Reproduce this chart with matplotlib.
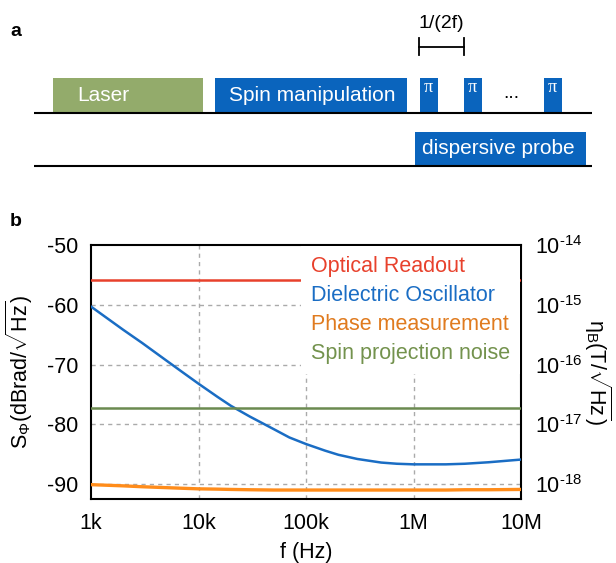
import numpy as np
import matplotlib
matplotlib.use("Agg")
import matplotlib.pyplot as plt
from matplotlib.patches import Rectangle
from matplotlib.ticker import FixedLocator, NullLocator

plt.rcParams['font.family'] = ['Liberation Sans', 'DejaVu Sans']
plt.rcParams['mathtext.fontset'] = 'custom'
plt.rcParams['mathtext.rm'] = 'Liberation Sans'
plt.rcParams['mathtext.it'] = 'Liberation Sans:italic'
plt.rcParams['mathtext.default'] = 'regular'
plt.rcParams['axes.unicode_minus'] = False

# ---- data (panel b) ----
freq = [1e3, 2e3, 3e3, 5e3, 7e3, 1e4, 1.5e4, 2e4, 3e4, 5e4, 7e4, 1e5, 1.5e5,
        2e5, 3e5, 5e5, 7e5, 1e6, 2e6, 3e6, 5e6, 1e7]
dielectric = [-60.3, -64.2, -66.4, -69.3, -71.2, -73.2, -75.4, -76.9, -78.7,
              -80.8, -82.2, -83.3, -84.4, -85.1, -85.8, -86.4, -86.6, -86.7,
              -86.7, -86.6, -86.35, -85.9]
phase = [-90.1, -90.3, -90.45, -90.6, -90.7, -90.8, -90.85, -90.9, -90.95,
         -91.0, -91.0, -91.0, -91.0, -91.0, -91.0, -91.0, -91.0, -91.0,
         -91.0, -90.95, -90.95, -90.9]
optical_level = -55.8
spin_level = -77.2
freq_ticks = [1e3, 1e4, 1e5, 1e6, 1e7]
freq_labels = ['1k', '10k', '100k', '1M', '10M']
db_ticks = [-50, -60, -70, -80, -90]
eta_ticks = [1e-14, 1e-15, 1e-16, 1e-17, 1e-18]
eta_labels = ['10$^{\u2010' + e + '}$' for e in ['14', '15', '16', '17', '18']]
series_names = ['Optical Readout', 'Dielectric Oscillator',
                'Phase measurement', 'Spin projection noise']

# ---- panel a sequence labels ----
seq_top = ['Laser', 'Spin manipulation']
pi_count = 3

RED = '#e8412c'
BLUE = '#1a6dc4'
ORANGE = '#ff8c1a'
GREEN = '#6b8a50'
LASER = '#93ab6b'
BOXBLUE = '#0a64bd'

fig = plt.figure(figsize=(6.16, 5.63), dpi=100, facecolor='white')

# panel a drawn in pixel coordinates
pa = fig.add_axes([0, 0, 1, 1])
pa.set_xlim(0, 616)
pa.set_ylim(563, 0)
pa.axis('off')

pa.text(10, 32, 'a', fontsize=14, fontweight='bold', va='center', ha='left')
pa.text(10, 222, 'b', fontsize=14, fontweight='bold', va='center', ha='left')

# baselines
pa.plot([34, 592], [112.5, 112.5], color='black', lw=1.5, solid_capstyle='butt')
pa.plot([34, 592], [166, 166], color='black', lw=1.5, solid_capstyle='butt')

# blocks
pa.add_patch(Rectangle((53, 78), 150, 34, facecolor=LASER, edgecolor='none'))
pa.text(77, 95.5, seq_top[0], color='white', fontsize=15, va='center', ha='left')
pa.add_patch(Rectangle((215, 78), 192, 34, facecolor=BOXBLUE, edgecolor='none'))
pa.text(229, 95.5, seq_top[1], color='white', fontsize=15, va='center', ha='left')
pi_x = [420, 464, 544]
for i in range(pi_count):
    pa.add_patch(Rectangle((pi_x[i], 78), 17.5, 34, facecolor=BOXBLUE,
                           edgecolor='none'))
    pa.text(pi_x[i] + 8.75, 79, 'π', color='white', fontsize=13,
            family='Liberation Serif', va='top', ha='center')
pa.text(511, 94, '...', fontsize=14, va='center', ha='center')
pa.add_patch(Rectangle((415, 132), 171, 34, facecolor=BOXBLUE, edgecolor='none'))
pa.text(421.5, 149, 'dispersive probe', color='white', fontsize=15,
        va='center', ha='left')

# 1/(2f) bracket
pa.plot([419, 464], [46.7, 46.7], color='black', lw=1.3)
pa.plot([419, 419], [38, 55], color='black', lw=1.3)
pa.plot([464, 464], [38, 55], color='black', lw=1.3)
pa.text(441.5, 23, '1/(2f)', fontsize=14, va='center', ha='center')

# panel b
ax = fig.add_axes([91 / 616, 64 / 563, 430 / 616, 254 / 563])
ylo, yhi = -92.5, -49.99
ax.set_xscale('log')
ax.set_xlim(1e3, 1e7)
ax.set_ylim(ylo, yhi)

for xv in [1e4, 1e5, 1e6]:
    ax.axvline(xv, color='#aaaaaa', lw=1, ls=(0, (3, 3)), zorder=1)
for yv in [-60, -70, -80, -90]:
    ax.axhline(yv, color='#aaaaaa', lw=1, ls=(0, (3, 3)), zorder=1)

ax.plot([freq[0], freq[-1]], [optical_level, optical_level], color=RED, lw=1.8,
        label=series_names[0], zorder=3)
ax.plot(freq, dielectric, color=BLUE, lw=1.8, label=series_names[1], zorder=3)
ax.plot(freq, phase, color=ORANGE, lw=2.4, label=series_names[2], zorder=3)
ax.plot([freq[0], freq[-1]], [spin_level, spin_level], color=GREEN, lw=1.8,
        label=series_names[3], zorder=3)

ax.xaxis.set_major_locator(FixedLocator(freq_ticks))
ax.xaxis.set_minor_locator(NullLocator())
ax.set_xticklabels(freq_labels)
ax.set_yticks(db_ticks)
ax.tick_params(axis='both', length=0, labelsize=15.5)
ax.tick_params(axis='x', pad=10)
ax.tick_params(axis='y', pad=9)
ax.set_xlabel('f (Hz)', fontsize=15.5, labelpad=6)
ax.set_ylabel(r'S$_{\Phi}$(dBrad/$\sqrt{\mathrm{Hz}}$)', fontsize=15.5, labelpad=9)
for s in ax.spines.values():
    s.set_linewidth(1.5)

leg = ax.legend(loc='upper right', bbox_to_anchor=(1.0, 1.0), frameon=True,
                fancybox=False, framealpha=1, facecolor='white', edgecolor='none',
                handlelength=0, handletextpad=0, fontsize=15.5, borderpad=0.45,
                labelspacing=0.38, borderaxespad=0.05)
for h in leg.legend_handles:
    h.set_visible(False)
for t, c in zip(leg.get_texts(), [RED, BLUE, '#e07b1f', '#73924d']):
    t.set_color(c)
leg.set_zorder(5)

ax2 = ax.twinx()
ax2.set_yscale('log')
ax2.set_ylim(10 ** (ylo / 10 - 9), 10 ** (yhi / 10 - 9))
ax2.yaxis.set_major_locator(FixedLocator(eta_ticks))
ax2.yaxis.set_minor_locator(NullLocator())
ax2.set_yticklabels(eta_labels)
ax2.tick_params(axis='y', length=0, labelsize=15.5, pad=10)
ax2.set_ylabel(r'η$_{\mathrm{B}}$(T/$\sqrt{\mathrm{Hz}}$)', fontsize=15.5,
               rotation=-90, labelpad=22)
for s in ax2.spines.values():
    s.set_visible(False)

fig.savefig('out.png', dpi=100, facecolor='white')
